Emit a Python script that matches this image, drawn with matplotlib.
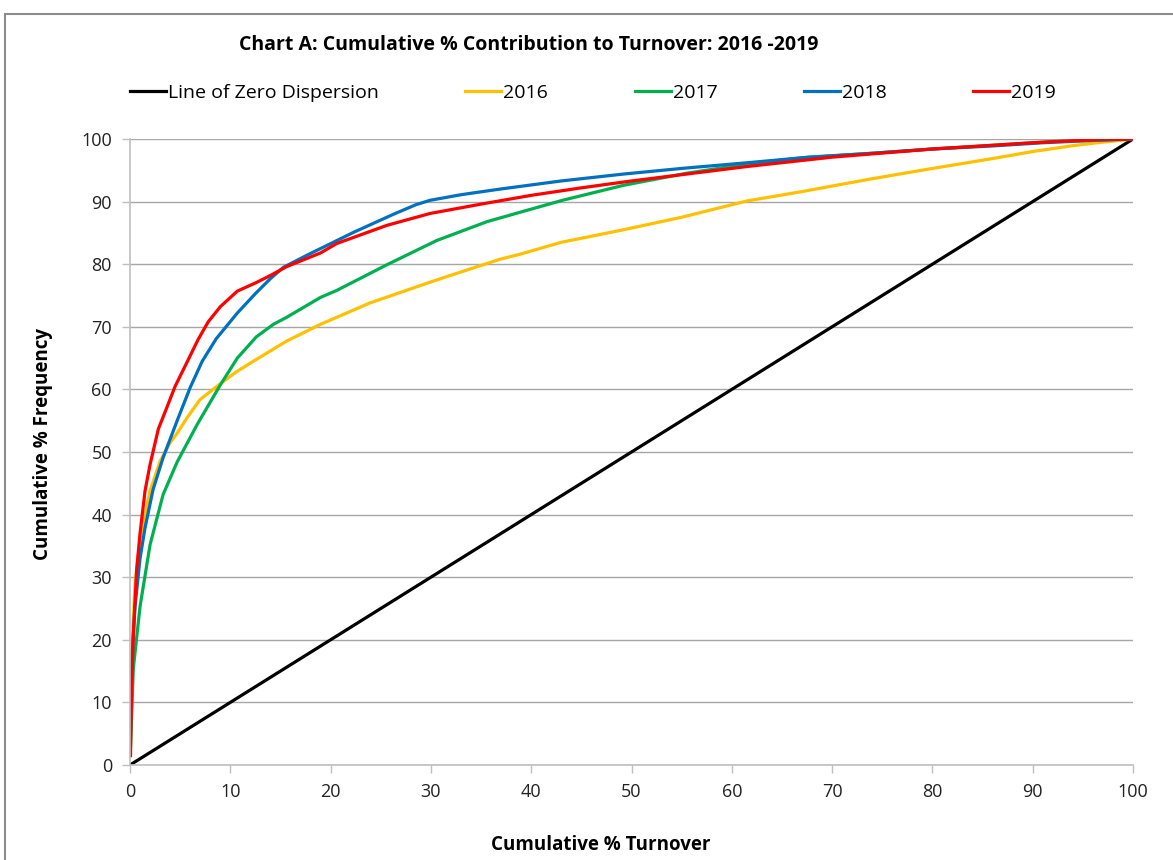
import matplotlib
matplotlib.use('Agg')
import matplotlib.pyplot as plt
from matplotlib.patches import Rectangle

plt.rcParams['font.family'] = ['Open Sans', 'DejaVu Sans']

# ── Données ────────────────────────────────────────────────────────────
zero_x = [0, 100]
zero_y = [0, 100]

x_2016 = [0.05, 0.2, 0.5, 1.0, 2.0, 3.0, 4.0, 4.7, 5.7, 7.0, 9.0, 10.6, 12.3, 15.6, 19.0, 23.9,
          30.6, 36.9, 38.9, 43.0, 49.2, 55.0, 61.5, 67.0, 73.8, 80.0, 86.1, 90.0, 94.3, 97.0, 100]
y_2016 = [3, 18, 29, 36, 43.8, 48.5, 51.5, 53, 55.5, 58.4, 60.9, 62.8, 64.5, 67.7, 70.4, 73.8,
          77.5, 80.8, 81.6, 83.5, 85.5, 87.5, 90.1, 91.6, 93.6, 95.3, 96.9, 98.0, 99.0, 99.5, 100]

x_2017 = [0.05, 0.33, 1.0, 2.0, 3.3, 4.7, 6.7, 9.0, 10.7, 12.6, 14.3, 15.6, 19.0, 20.6, 25.6,
          30.6, 35.6, 38.9, 43.1, 49.2, 55.4, 61.5, 67.6, 73.8, 80.0, 86.1, 92.0, 100]
y_2017 = [3, 15.4, 25.3, 35.2, 43.2, 48.4, 54.4, 60.7, 65.0, 68.4, 70.4, 71.5, 74.7, 75.8, 79.9,
          83.8, 86.8, 88.3, 90.2, 92.6, 94.5, 96.0, 97.1, 97.7, 98.4, 99.0, 99.6, 100]

x_2018 = [0.05, 0.2, 0.5, 1.0, 1.5, 2.3, 3.3, 4.7, 6.0, 7.2, 8.6, 10.7, 12.5, 14.0, 15.3, 17.6,
          19.0, 22.3, 26.3, 28.5, 29.9, 33.0, 36.9, 43.0, 49.2, 55.0, 61.5, 67.0, 73.8, 80.0,
          86.1, 91.0, 96.4, 100]
y_2018 = [5, 17, 25.3, 33, 37.9, 44, 49.1, 55, 60.3, 64.5, 68.1, 72.2, 75.3, 77.7, 79.5, 81.4,
          82.5, 85.1, 88.0, 89.5, 90.2, 91.1, 92.0, 93.3, 94.4, 95.3, 96.2, 97.0, 97.7, 98.4,
          98.9, 99.4, 99.8, 100]

x_2019 = [0.05, 0.15, 0.33, 0.67, 1.0, 1.5, 2.0, 2.83, 3.5, 4.5, 5.67, 6.8, 7.8, 9.0, 10.7,
          12.5, 14.0, 15.6, 19.0, 20.6, 25.6, 29.9, 35.0, 40.0, 45.0, 50.0, 55.0, 61.5, 70.0,
          80.0, 86.0, 90.0, 96.4, 100]
y_2019 = [1.5, 12, 20.7, 31.3, 37, 43.8, 48, 53.7, 56.4, 60.5, 64.3, 68, 70.8, 73.2, 75.7,
          77.0, 78.2, 79.6, 81.8, 83.3, 86.2, 88.1, 89.6, 91.0, 92.2, 93.3, 94.3, 95.6, 97.1,
          98.4, 99.0, 99.4, 99.9, 100]

ticks = list(range(0, 101, 10))

# ── Figure ─────────────────────────────────────────────────────────────
W, H = 1173, 860
fig = plt.figure(figsize=(W / 100, H / 100), dpi=100)
ax = fig.add_axes([130 / W, 1 - 765 / H, (1133 - 130) / W, (765 - 139) / H])

# cadre extérieur gris
fig.patches.append(Rectangle((5 / W, -0.05), 1.1, (H - 14) / H + 0.05,
                             transform=fig.transFigure, fill=False,
                             edgecolor='#8c8c8c', linewidth=1.5, clip_on=False))

lw = 2.3
ax.plot(zero_x, zero_y, color='black', linewidth=lw, label='Line of Zero Dispersion')
ax.plot(x_2016, y_2016, color='#FFC000', linewidth=lw, label='2016')
ax.plot(x_2017, y_2017, color='#00B050', linewidth=lw, label='2017')
ax.plot(x_2018, y_2018, color='#0070C0', linewidth=lw, label='2018')
ax.plot(x_2019, y_2019, color='#FF0000', linewidth=lw, label='2019')

ax.set_xlim(0, 100)
ax.set_ylim(0, 100)
ax.set_xticks(ticks)
ax.set_yticks(ticks)
ax.tick_params(axis='both', direction='out', length=6, width=1, color='#bfbfbf',
               labelsize=13, labelcolor='#222222', pad=7)
ax.yaxis.grid(True, color='#a6a6a6', linewidth=1)
ax.set_axisbelow(True)
for s in ['top', 'right']:
    ax.spines[s].set_visible(False)
for s in ['left', 'bottom']:
    ax.spines[s].set_color('#bfbfbf')
    ax.spines[s].set_linewidth(1.2)

ax.set_xlabel('Cumulative % Turnover', fontsize=13.5, fontweight='bold')
ax.xaxis.set_label_coords((601 - 130) / 1003, -(835 - 765) / 626)
ax.set_ylabel('Cumulative % Frequency', fontsize=13.5, fontweight='bold')
ax.yaxis.set_label_coords((53 - 130) / 1003, (765 - 444) / 626)

fig.text(529 / W, 1 - 45 / H, 'Chart A: Cumulative % Contribution to Turnover: 2016 -2019',
         ha='center', va='center', fontsize=14, fontweight='bold')

fig.legend(loc='center left', bbox_to_anchor=(130 / W, 1 - 93 / H), ncol=5,
           frameon=False, fontsize=14, handlelength=1.85, handletextpad=0.1,
           columnspacing=4.45, borderaxespad=0, borderpad=0)

fig.savefig('out.png', dpi=100)
